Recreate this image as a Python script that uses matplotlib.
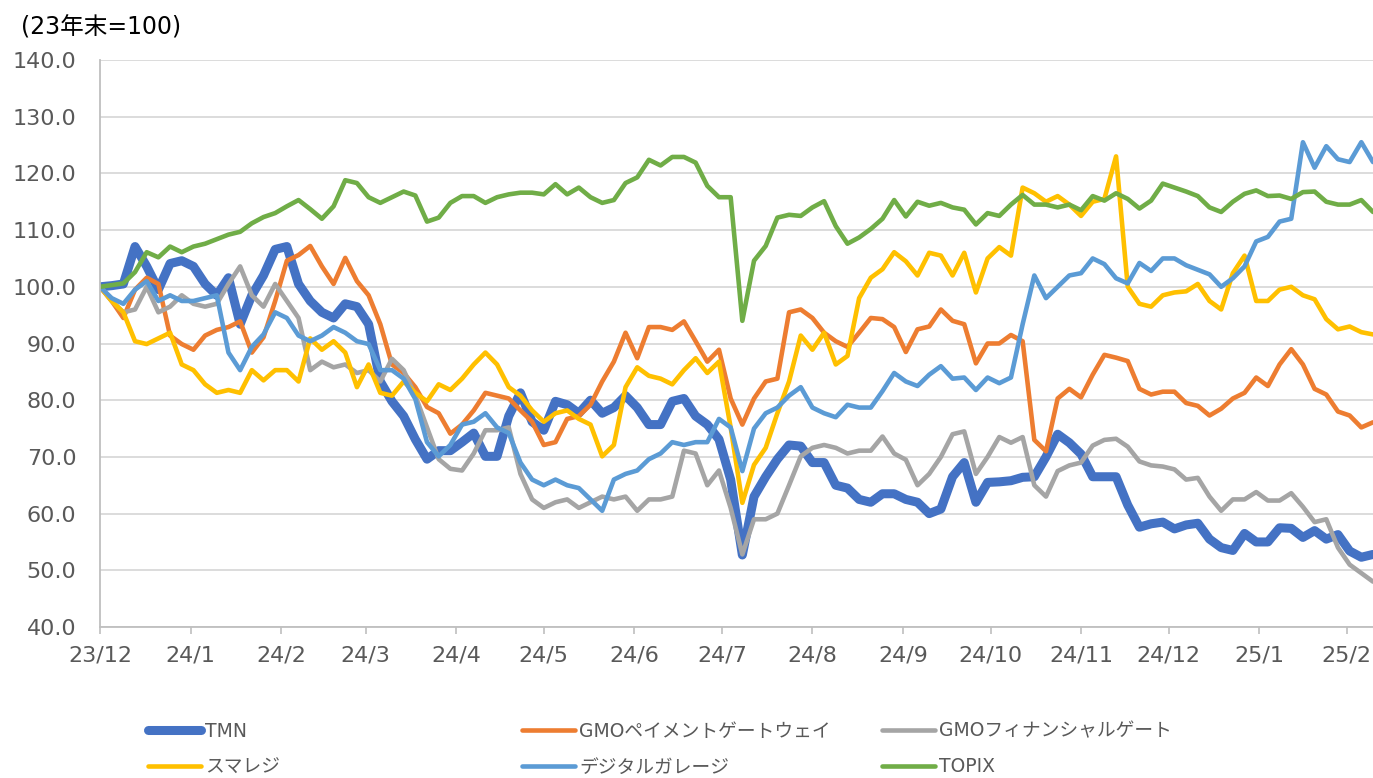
import pandas as pd
import matplotlib
matplotlib.use("Agg")
import matplotlib.pyplot as plt

plt.rcParams['font.family'] = ['DejaVu Sans', 'Noto Sans CJK JP']

# 4日おきに読み取った値 (23年末=100)
dates = pd.date_range('2023-12-29', periods=110, freq='4D')

tmn = [100, 100.2, 100.5, 107.1, 103.6, 99.5, 104.1, 104.6, 103.6, 100.5,
       98.5, 101.6, 93.4, 98.5, 102, 106.6, 107.1, 100.5, 97.5, 95.5,
       94.5, 97, 96.5, 93.4, 83.3, 79.8, 77.2, 73.1, 69.6, 71.1,
       71.1, 72.6, 74.2, 70.1, 70.1, 77.2, 81.3, 76.2, 74.7, 79.8,
       79.2, 77.7, 80, 77.7, 78.7, 80.8, 78.7, 75.7, 75.7, 79.8,
       80.3, 77.2, 75.7, 73.1, 66, 52.7, 63, 66.5, 69.6, 72.1,
       71.9, 69, 69, 65, 64.5, 62.5, 62, 63.5, 63.5, 62.5,
       62, 60, 60.8, 66.5, 69, 62, 65.5, 65.6, 65.8, 66.4,
       66.5, 70, 74, 72.5, 70.5, 66.5, 66.5, 66.5, 61.5, 57.6,
       58.2, 58.5, 57.3, 58, 58.3, 55.5, 54, 53.5, 56.5, 55,
       55, 57.5, 57.4, 55.8, 57, 55.5, 56.3, 53.4, 52.3, 52.8]

gmo_pg = [100, 97.5, 94.5, 99.5, 101.6, 100.5, 91.4, 89.9, 88.9, 91.4,
          92.4, 92.9, 93.9, 88.4, 91.1, 97.5, 104.6, 105.6, 107.2, 103.6,
          100.5, 105.1, 101, 98.5, 93.4, 86.3, 84.8, 82.3, 78.8, 77.7,
          74.1, 75.7, 78.2, 81.3, 80.8, 80.3, 78.2, 76.2, 72.1, 72.6,
          76.7, 77.2, 79.2, 83.3, 86.8, 91.9, 87.4, 92.9, 92.9, 92.4,
          93.9, 90.4, 86.8, 88.9, 80.3, 75.7, 80.3, 83.3, 83.8, 95.5,
          96, 94.5, 91.9, 90.4, 89.4, 91.9, 94.5, 94.3, 92.9, 88.5,
          92.5, 93, 96, 94, 93.4, 86.5, 90, 90, 91.5, 90.4,
          73, 71, 80.3, 82, 80.5, 84.5, 88, 87.5, 86.9, 82,
          81, 81.5, 81.5, 79.5, 79, 77.3, 78.5, 80.3, 81.3, 84,
          82.5, 86.3, 89, 86.3, 82, 81, 78, 77.3, 75.2, 76.1]

gmo_fg = [100, 97.5, 95.5, 96, 100, 95.5, 96.5, 98.5, 97, 96.5,
          97, 100.5, 103.6, 98.5, 96.5, 100.5, 97.5, 94.5, 85.3, 86.8,
          85.8, 86.3, 84.8, 85.3, 83.3, 87.3, 85.3, 80.8, 75.2, 69.6,
          67.9, 67.6, 70.6, 74.7, 74.7, 75.2, 67, 62.5, 61, 62,
          62.5, 61, 62, 63, 62.5, 63, 60.5, 62.5, 62.5, 63,
          71.1, 70.6, 65, 67.6, 61, 52.8, 59, 59, 60, 65,
          70.1, 71.6, 72.1, 71.6, 70.6, 71.1, 71.1, 73.6, 70.6, 69.5,
          65, 67, 70, 74, 74.5, 67, 70, 73.5, 72.5, 73.5,
          65, 63, 67.5, 68.5, 69, 72, 73, 73.2, 71.8, 69.2,
          68.5, 68.3, 67.8, 66, 66.3, 63, 60.5, 62.5, 62.5, 63.8,
          62.3, 62.3, 63.6, 61.2, 58.5, 59, 54, 51, 49.5, 48]

smaregi = [100, 97.5, 95.5, 90.4, 89.9, 90.9, 91.9, 86.3, 85.3, 82.8,
           81.3, 81.8, 81.3, 85.3, 83.5, 85.3, 85.3, 83.3, 90.9, 88.9,
           90.4, 88.4, 82.3, 86.3, 81.3, 80.8, 83.3, 81.3, 79.8, 82.8,
           81.8, 83.8, 86.3, 88.4, 86.3, 82.3, 80.8, 78.2, 76.2, 77.7,
           78.2, 76.7, 75.7, 70.1, 72.1, 82.3, 85.8, 84.3, 83.8, 82.8,
           85.3, 87.4, 84.8, 86.8, 75.2, 61.9, 68.6, 71.6, 77.7, 83.3,
           91.4, 88.9, 91.9, 86.3, 87.8, 98, 101.6, 103.1, 106.1, 104.5,
           102, 106, 105.5, 102, 106, 99, 105, 107, 105.5, 117.5,
           116.5, 115, 116, 114.5, 112.5, 115, 115.5, 123, 100, 97,
           96.5, 98.5, 99, 99.2, 100.5, 97.5, 96, 102.4, 105.5, 97.5,
           97.5, 99.5, 100, 98.5, 97.8, 94.3, 92.5, 93, 92, 91.6]

digital_garage = [100, 98, 97, 99.5, 101, 97.5, 98.5, 97.5, 97.5, 98,
                  98.5, 88.4, 85.3, 89.4, 91.6, 95.5, 94.5, 91.4, 90.4, 91.4,
                  92.9, 91.9, 90.4, 89.9, 85.3, 85.3, 83.8, 80.2, 72.6, 70.1,
                  72.1, 75.7, 76.2, 77.7, 75.2, 74.2, 69, 66, 65, 66,
                  65, 64.5, 62.5, 60.5, 66, 67, 67.6, 69.6, 70.6, 72.6,
                  72.1, 72.6, 72.6, 76.7, 75.2, 67.5, 75, 77.7, 78.7, 80.8,
                  82.3, 78.7, 77.7, 77, 79.2, 78.7, 78.7, 81.6, 84.8, 83.3,
                  82.5, 84.5, 86, 83.8, 84, 81.8, 84, 83, 84, 93.4,
                  102, 98, 100, 102, 102.4, 105, 104, 101.5, 100.6, 104.2,
                  102.8, 105, 105, 103.8, 103, 102.2, 100, 101.5, 103.6, 108,
                  108.8, 111.5, 112, 125.5, 121, 124.8, 122.5, 122, 125.5, 122]

topix = [100, 100.3, 100.6, 102.6, 106.1, 105.2, 107.1, 106.1, 107.1, 107.6,
         108.4, 109.2, 109.7, 111.2, 112.3, 113, 114.2, 115.3, 113.7, 112,
         114.2, 118.8, 118.3, 115.8, 114.8, 115.8, 116.8, 116.1, 111.5, 112.2,
         114.8, 116, 116, 114.8, 115.8, 116.3, 116.6, 116.6, 116.3, 118.1,
         116.3, 117.5, 115.8, 114.8, 115.3, 118.3, 119.3, 122.4, 121.4, 122.9,
         122.9, 121.9, 117.8, 115.8, 115.8, 94, 104.6, 107.2, 112.2, 112.7,
         112.5, 114, 115.1, 110.7, 107.6, 108.7, 110.2, 112, 115.3, 112.4,
         115, 114.3, 114.8, 114, 113.6, 111, 113, 112.5, 114.5, 116.2,
         114.5, 114.5, 114, 114.5, 113.5, 116, 115.2, 116.5, 115.5, 113.8,
         115.2, 118.2, 117.5, 116.8, 116, 114, 113.2, 115, 116.4, 117,
         116, 116.1, 115.5, 116.7, 116.8, 115, 114.5, 114.5, 115.3, 113.2]

tick_dates = ['2023-12-29', '2024-01-29', '2024-02-29', '2024-03-29', '2024-04-29',
              '2024-05-29', '2024-06-29', '2024-07-29', '2024-08-29', '2024-09-29',
              '2024-10-29', '2024-11-29', '2024-12-29', '2025-01-29', '2025-02-28']
tick_labels = ['23/12', '24/1', '24/2', '24/3', '24/4', '24/5', '24/6', '24/7',
               '24/8', '24/9', '24/10', '24/11', '24/12', '25/1', '25/2']

series = [
    ('TMN', tmn, '#4472C4', 6.5),
    ('GMOペイメントゲートウェイ', gmo_pg, '#ED7D31', 3.3),
    ('GMOフィナンシャルゲート', gmo_fg, '#A5A5A5', 3.3),
    ('スマレジ', smaregi, '#FFC000', 3.3),
    ('デジタルガレージ', digital_garage, '#5B9BD5', 3.3),
    ('TOPIX', topix, '#70AD47', 3.3),
]

fig = plt.figure(figsize=(13.73, 7.78), dpi=100)
ax = fig.add_axes([100 / 1373, 1 - 627 / 778, 1 - 100 / 1373, 567 / 778])

lines = {}
for name, vals, color, lw in series:
    ln, = ax.plot(dates, vals, color=color, lw=lw, solid_joinstyle='round',
                  solid_capstyle='round', label=name)
    lines[name] = ln

ax.set_xlim(dates[0], dates[-1])
ax.set_ylim(40, 140)
ax.set_yticks(range(40, 141, 10))
ax.set_yticklabels([f'{v:.1f}' for v in range(40, 141, 10)])
ax.set_xticks(pd.to_datetime(tick_dates))
ax.set_xticklabels(tick_labels)

ax.grid(axis='y', color='#D9D9D9', lw=1.3)
ax.set_axisbelow(True)
for s in ['top', 'right']:
    ax.spines[s].set_visible(False)
for s in ['left', 'bottom']:
    ax.spines[s].set_color('#BFBFBF')
    ax.spines[s].set_linewidth(1.3)
ax.tick_params(axis='y', length=0, pad=17, labelsize=16, labelcolor='#595959')
ax.tick_params(axis='x', length=5, width=1.2, color='#BFBFBF', pad=8,
               labelsize=16, labelcolor='#595959')

fig.text(21 / 1373, 1 - 28 / 778, '(23年末=100)', fontsize=17, color='#000000',
         va='center', ha='left')

# 凡例 (3列)
cols = [(['TMN', 'スマレジ'], 148), (['GMOペイメントゲートウェイ', 'デジタルガレージ'], 522),
        (['GMOフィナンシャルゲート', 'TOPIX'], 882)]
for names, xpx in cols:
    leg = fig.legend([lines[n] for n in names], names, loc='center left',
                     bbox_to_anchor=(xpx / 1373, 1 - 749 / 778), frameon=False,
                     fontsize=13.5, handlelength=2.8, handletextpad=0.25,
                     labelspacing=0.9, borderpad=0, borderaxespad=0)
    for t in leg.get_texts():
        t.set_color('#595959')

plt.savefig('out.png', dpi=100)
